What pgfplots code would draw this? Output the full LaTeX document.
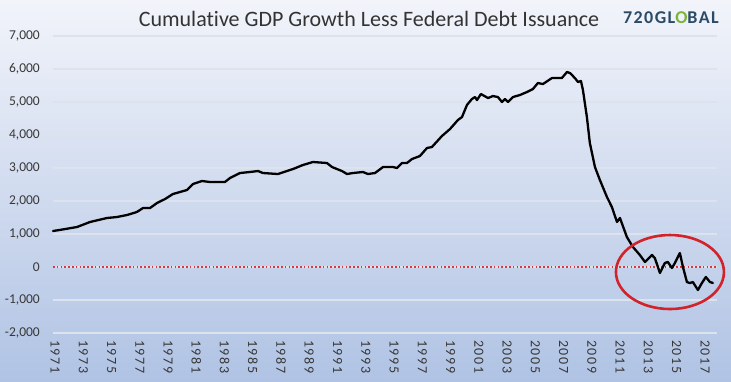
\documentclass[border=0pt]{standalone}
\usepackage{fontspec}
\setmainfont[Ligatures=NoCommon]{Carlito}
\newfontfamily\xlab[LetterSpace=12]{Carlito}
\newfontfamily\logofont[LetterSpace=8]{Carlito}
\usepackage{pgfplots}
\pgfplotsset{compat=1.18}
\definecolor{bgtop}{HTML}{F2F4FA}
\definecolor{bgbot}{HTML}{B0C3E4}
\definecolor{gridc}{HTML}{DDE3ED}
\definecolor{tickc}{HTML}{383838}
\definecolor{titlec}{HTML}{333333}
\definecolor{zeroc}{HTML}{E0363A}
\definecolor{circc}{HTML}{D2232A}
\definecolor{logoc}{HTML}{2A4A66}
\definecolor{leaf}{HTML}{7DB33A}
\begin{document}
\begin{tikzpicture}[x=1pt,y=1pt]
\shade[top color=bgtop, bottom color=bgbot] (0,0) rectangle (731,381);
\useasboundingbox (0,0) rectangle (731,381);
\begin{axis}[
  at={(53pt,48pt)}, anchor=south west,
  scale only axis, width=664pt, height=297pt,
  xmin=1970.85, xmax=2017.85, ymin=-2000, ymax=7000,
  xtick={1971,1973,...,2017},
  ytick={-2000,-1000,...,7000},
  axis line style={draw=none},
  major tick length=0pt,
  ymajorgrids,
  grid style={color=gridc, line width=1.2pt},
  /pgf/number format/assume math mode=true,
  xticklabel style={rotate=-90, anchor=west, inner sep=0pt,
    font=\fontsize{14}{16}\selectfont\xlab, text=tickc,
    /pgf/number format/1000 sep={}},
  xticklabel shift=7pt,
  yticklabel style={anchor=east, inner sep=0pt,
    font=\fontsize{13.5}{15}\selectfont, text=tickc,
    /pgf/number format/1000 sep={,}},
  yticklabel shift=13pt,
  clip=false,
]
\addplot[draw=zeroc, line width=1.6pt, dash pattern=on 1.6pt off 2.2pt] coordinates {(1970.85,0) (2017.75,0)};
\addplot[black, line width=2.3pt, line join=round, line cap=round] coordinates {
(1970.85,1090) (1971.70,1150) (1972.55,1212) (1973.47,1364) (1974.67,1485)
(1975.38,1515) (1976.09,1576) (1976.79,1667) (1977.22,1788) (1977.72,1788)
(1978.21,1939) (1978.78,2060) (1979.34,2212) (1979.84,2273) (1980.33,2333)
(1980.76,2515) (1981.40,2606) (1981.96,2576) (1983.02,2576) (1983.38,2697)
(1984.08,2848) (1984.79,2879) (1985.36,2909) (1985.71,2848) (1986.77,2818)
(1987.41,2909) (1987.84,2969) (1988.54,3091) (1989.25,3182) (1990.24,3151)
(1990.60,3030) (1990.95,2969) (1991.30,2909) (1991.66,2818) (1992.08,2848)
(1992.79,2879) (1993.14,2818) (1993.64,2848) (1994.21,3030) (1994.91,3030)
(1995.20,3000) (1995.55,3151) (1995.90,3151) (1996.26,3272) (1996.82,3363)
(1997.32,3606) (1997.67,3636) (1998.38,3969) (1998.95,4181) (1999.51,4454)
(1999.80,4545) (2000.15,4909) (2000.50,5090) (2000.72,5151) (2000.86,5060)
(2001.14,5242) (2001.64,5121) (2001.99,5181) (2002.34,5151) (2002.63,5000)
(2002.84,5090) (2003.05,5000) (2003.41,5151) (2003.90,5212) (2004.40,5303)
(2004.82,5393) (2005.17,5575) (2005.53,5545) (2006.17,5727) (2006.87,5727)
(2007.23,5909) (2007.44,5878) (2007.79,5727) (2008.01,5606) (2008.22,5636)
(2008.36,5363) (2008.64,4545) (2008.85,3757) (2009.21,3030) (2009.56,2636)
(2010.06,2121) (2010.41,1818) (2010.77,1364) (2010.98,1485) (2011.47,909)
(2011.90,606) (2012.39,364) (2012.75,152) (2013.24,364) (2013.45,273)
(2013.81,-182) (2014.16,121) (2014.37,152) (2014.66,-30) (2014.87,121)
(2015.22,424) (2015.44,0) (2015.72,-455) (2015.93,-485) (2016.14,-455)
(2016.50,-697) (2016.78,-485) (2017.06,-303) (2017.35,-455) (2017.56,-485)
};
\draw[circc, line width=2.6pt] (axis cs:2014.52,-152) ellipse [x radius=54pt, y radius=37pt];
\end{axis}
\node[anchor=base, inner sep=0pt, font=\fontsize{22}{24}\selectfont, text=titlec] at (369,354) {Cumulative GDP Growth Less Federal Debt Issuance};
\node[anchor=base east, inner sep=0pt, font=\fontsize{18}{20}\selectfont\logofont\bfseries, text=logoc] at (719,357) {720GL\textcolor{leaf}{O}BAL};
\end{tikzpicture}
\end{document}
